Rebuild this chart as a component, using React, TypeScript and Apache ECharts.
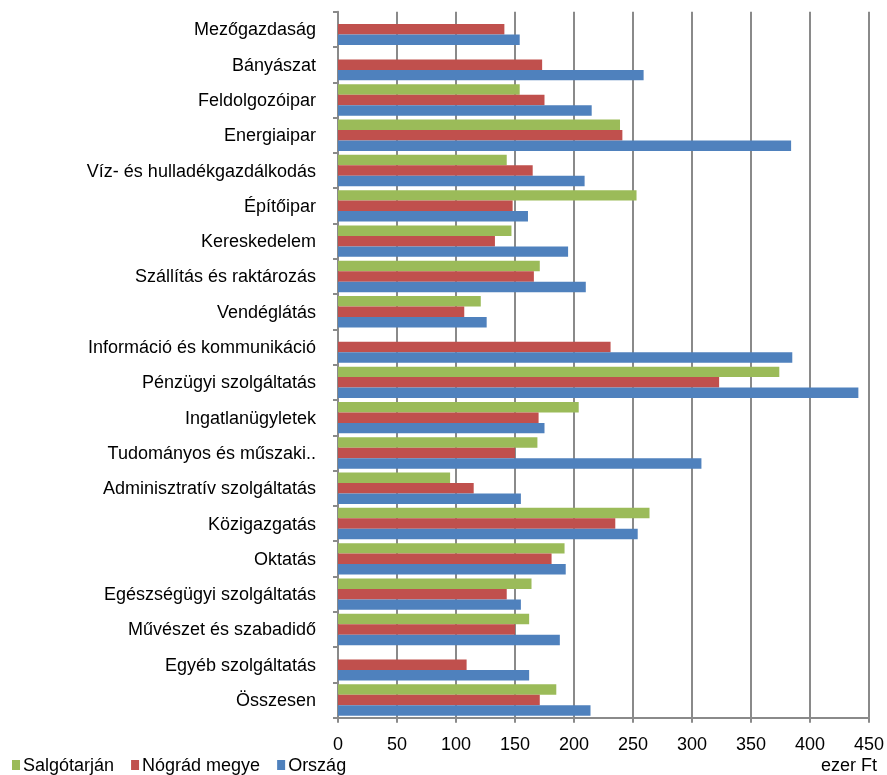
import React, { useEffect, useRef } from "react";
import * as echarts from "echarts";

const categories = [
  "Mezőgazdaság",
  "Bányászat",
  "Feldolgozóipar",
  "Energiaipar",
  "Víz- és hulladékgazdálkodás",
  "Építőipar",
  "Kereskedelem",
  "Szállítás és raktározás",
  "Vendéglátás",
  "Információ és kommunikáció",
  "Pénzügyi szolgáltatás",
  "Ingatlanügyletek",
  "Tudományos és műszaki..",
  "Adminisztratív szolgáltatás",
  "Közigazgatás",
  "Oktatás",
  "Egészségügyi szolgáltatás",
  "Művészet és szabadidő",
  "Egyéb szolgáltatás",
  "Összesen",
];

const salgotarjan = [null, null, 154, 239, 143, 253, 147, 171, 121, null, 374, 204, 169, 95, 264, 192, 164, 162, null, 185];
const nograd = [141, 173, 175, 241, 165, 148, 133, 166, 107, 231, 323, 170, 150, 115, 235, 181, 143, 150, 109, 171];
const orszag = [154, 259, 215, 384, 209, 161, 195, 210, 126, 385, 441, 175, 308, 155, 254, 193, 155, 188, 162, 214];

const seriesNames = ["Salgótarján", "Nógrád megye", "Ország"];
const xTicks = { min: 0, max: 450, interval: 50 };
const unitLabel = "ezer Ft";

const FONT = "'Liberation Sans', Arial, Helvetica, sans-serif";
const GRID = "#8a8a8a";

export default function App() {
  const ref = useRef<HTMLDivElement>(null);
  useEffect(() => {
    if (!ref.current) return;
    const chart = echarts.init(ref.current, undefined, { renderer: "svg" });
    const colors = ["#9BBB59", "#C0504D", "#4F81BD"];
    const datas = [salgotarjan, nograd, orszag];
    chart.setOption({
      animation: false,
      textStyle: { fontFamily: FONT },
      grid: { left: 338, right: 17.5, top: 11.7, bottom: 57.3, containLabel: false },
      legend: {
        data: seriesNames,
        left: 12,
        top: 756,
        padding: 0,
        itemWidth: 8,
        itemHeight: 10,
        itemGap: 17,
        icon: "rect",
        textStyle: {
          fontSize: 18,
          lineHeight: 17,
          color: "#000",
          fontFamily: FONT,
          padding: [0, 0, 0, -2],
        },
      },
      xAxis: {
        type: "value",
        min: xTicks.min,
        max: xTicks.max,
        interval: xTicks.interval,
        axisLine: { show: true, lineStyle: { color: GRID, width: 2 } },
        axisTick: { show: true, length: 5, lineStyle: { color: GRID, width: 2 } },
        splitLine: { show: true, lineStyle: { color: GRID, width: 2 } },
        axisLabel: { fontSize: 18, lineHeight: 17, color: "#000", margin: 18, fontFamily: FONT },
      },
      yAxis: {
        type: "category",
        data: categories,
        inverse: true,
        axisLine: { show: true, lineStyle: { color: GRID, width: 2 } },
        axisTick: { show: true, length: 5, lineStyle: { color: GRID, width: 2 } },
        axisLabel: { fontSize: 18, color: "#000", margin: 22, fontFamily: FONT },
      },
      graphic: [
        {
          type: "text",
          right: 10,
          bottom: 1,
          style: { text: unitLabel, fontSize: 18, lineHeight: 17, fill: "#000", fontFamily: FONT },
        },
      ],
      series: seriesNames.map((name, i) => ({
        name,
        type: "bar",
        data: datas[i],
        itemStyle: { color: colors[i] },
        barGap: "0%",
        barCategoryGap: "11%",
      })),
    });
    return () => chart.dispose();
  }, []);
  return (
    <div
      ref={ref}
      style={{ position: "fixed", left: 0, top: 0, width: 887, height: 775 }}
    />
  );
}
